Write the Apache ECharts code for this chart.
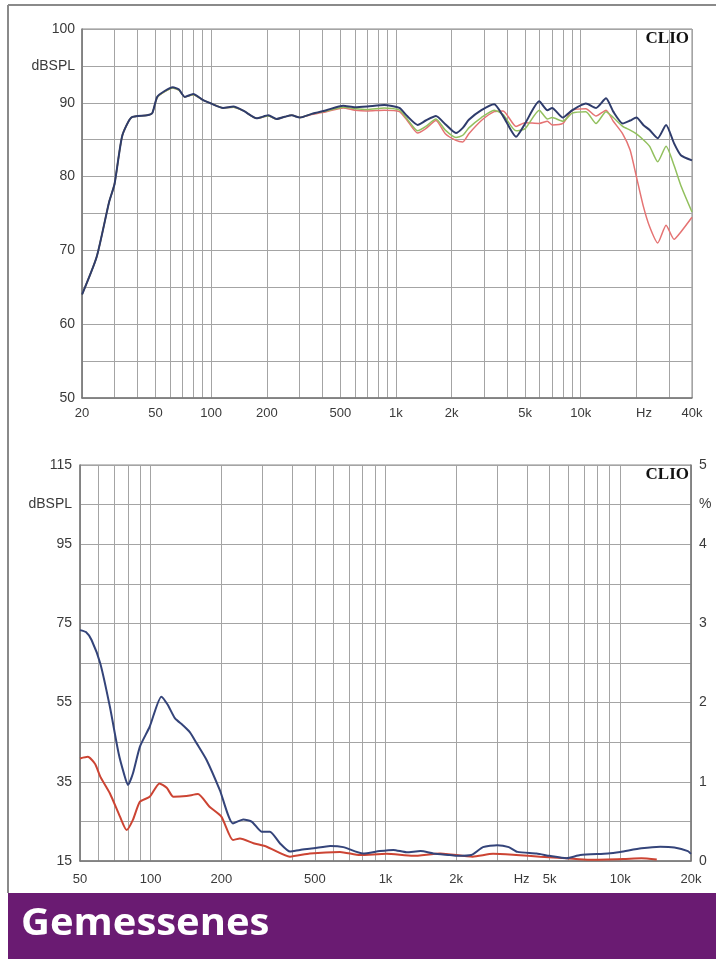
<!DOCTYPE html>
<html>
<head>
<meta charset="utf-8">
<title>Gemessenes</title>
<script src="https://cdn.jsdelivr.net/npm/echarts@6/dist/echarts.min.js"></script>
<style>
  html, body { margin: 0; padding: 0; background: #fff; }
  #chart { width: 716px; height: 959px; }
</style>
</head>
<body>
<div id="chart"></div>
<script>
// --- oberes Diagramm: Frequenzgang (dBSPL über Hz) ---
const topFreq = [20, 24, 28, 30, 33, 37, 45, 48, 51, 56, 62, 67, 72, 80, 90, 100, 116, 132, 150, 176,
  204, 226, 250, 273, 302, 350, 420, 518, 600, 700, 864, 1044, 1150, 1310, 1450, 1646, 1850, 2112, 2300, 2480,
  2900, 3400, 3800, 4466, 5000, 5960, 6600, 7000, 8000, 9000, 10660, 12100, 13700, 15000, 16860, 18500, 20000,
  21800, 23600, 26100, 28960, 32000, 34800, 40000]
const topBlue = [64.0, 69.1, 76.5, 79.0, 85.5, 88.0, 88.3, 88.6, 90.8, 91.6, 92.1, 91.8, 90.8, 91.2, 90.4, 89.9, 89.3, 89.5, 88.9, 87.9,
  88.3, 87.8, 88.1, 88.3, 88.0, 88.5, 89.0, 89.6, 89.4, 89.5, 89.7, 89.3, 88.2, 87.0, 87.6, 88.2, 87.1, 85.9, 86.6, 87.7,
  89.0, 89.8, 88.2, 85.4, 87.2, 90.2, 89.0, 89.3, 88.0, 89.0, 89.9, 89.3, 90.6, 88.8, 87.2, 87.6, 88.0,
  87.0, 86.3, 85.2, 87.0, 84.5, 82.9, 82.2]
const topGreen = [64.0, 69.1, 76.5, 79.0, 85.5, 88.0, 88.3, 88.6, 90.7, 91.5, 92.0, 91.7, 90.8, 91.1, 90.4, 89.9, 89.3, 89.4, 88.9, 87.9,
  88.2, 87.8, 88.1, 88.3, 88.0, 88.5, 88.9, 89.4, 89.2, 89.1, 89.3, 89.0, 87.8, 86.2, 86.8, 87.8, 86.3, 85.3, 85.6, 86.6,
  88.0, 89.0, 88.4, 86.2, 86.5, 89.0, 87.8, 88.0, 87.5, 88.6, 88.8, 87.2, 88.8, 88.0, 86.8, 86.3, 85.8,
  85.0, 84.1, 82.0, 84.1, 81.5, 78.8, 75.2]
const topRed = [64.0, 69.1, 76.5, 79.0, 85.5, 88.0, 88.3, 88.6, 90.7, 91.5, 92.0, 91.7, 90.8, 91.1, 90.4, 89.9, 89.3, 89.4, 88.9, 87.9,
  88.2, 87.8, 88.1, 88.3, 88.0, 88.4, 88.8, 89.3, 89.0, 88.9, 89.0, 88.8, 87.6, 85.9, 86.5, 87.6, 85.8, 84.9, 84.7, 85.8,
  87.6, 88.8, 88.9, 86.8, 87.3, 87.2, 87.5, 87.0, 87.2, 89.0, 89.2, 88.2, 89.0, 87.5, 85.8, 83.6, 80.0,
  76.0, 73.2, 71.0, 73.4, 71.5, 72.5, 74.5]

const topGridFreq = [20, 30, 40, 50, 60, 70, 80, 90, 100, 200, 300, 400, 500, 600, 700, 800, 900,
  1000, 2000, 3000, 4000, 5000, 6000, 7000, 8000, 9000, 10000, 20000, 30000, 40000]
const topLabelFreq = [20, 50, 100, 200, 500, 1000, 2000, 5000, 10000, 22000, 40000]
const topLabelText = ['20', '50', '100', '200', '500', '1k', '2k', '5k', '10k', 'Hz', '40k']
const topYTicks = [50, 55, 60, 65, 70, 75, 80, 85, 90, 95, 100]
const topYLabels = [50, 60, 70, 80, 90, 95, 100]

// --- unteres Diagramm: Klirrfaktor ---
const botBlueFreq = [50, 53, 56, 61, 67, 73, 77, 80, 84, 90, 99, 111, 118, 127, 137, 147, 157, 173, 197, 224,
  248, 270, 297, 322, 355, 392, 432, 495, 582, 661, 802, 945, 1080, 1230, 1410, 1600, 1880, 2025, 2320, 2600,
  2990, 3350, 3650, 4400, 5000, 5900, 6750, 8850, 10000, 12300, 14800, 17000, 19400, 20000]
const botBlueDb = [73.3, 72.8, 70.8, 64.9, 54.0, 42.2, 37.0, 34.2, 37.1, 43.9, 48.9, 56.5, 54.5, 51.0, 49.3, 47.5, 44.7, 40.5, 32.9, 24.5,
  25.5, 24.9, 22.4, 22.4, 19.5, 17.4, 17.8, 18.2, 18.8, 18.5, 16.9, 17.5, 17.8, 17.2, 17.5, 16.9, 16.5, 16.3, 16.5, 18.5,
  19.0, 18.5, 17.3, 16.9, 16.3, 15.7, 16.5, 16.9, 17.3, 18.2, 18.6, 18.4, 17.5, 16.8]
const botRedFreq = [50, 54, 58, 61, 67, 74, 79, 84, 90, 99, 109, 117, 125, 142, 159, 178, 200, 224, 240, 274,
  312, 392, 476, 640, 780, 1010, 1310, 1710, 2350, 2870, 3600, 4550, 5900, 7400, 10300, 12300, 14300]
const botRedDb = [40.9, 41.3, 39.5, 36.3, 32.1, 26.2, 22.8, 25.4, 30.0, 31.2, 34.6, 33.5, 31.2, 31.4, 31.9, 28.7, 26.2, 20.3, 20.7, 19.5,
  18.6, 16.1, 16.9, 17.3, 16.5, 16.8, 16.3, 16.9, 16.1, 16.8, 16.5, 16.1, 15.7, 15.3, 15.5, 15.7, 15.4]

const botGridFreq = [50, 60, 70, 80, 90, 100, 200, 300, 400, 500, 600, 700, 800, 900,
  1000, 2000, 3000, 4000, 5000, 6000, 7000, 8000, 9000, 10000, 20000]
const botLabelFreq = [50, 100, 200, 500, 1000, 2000, 3800, 5000, 10000, 20000]
const botLabelText = ['50', '100', '200', '500', '1k', '2k', 'Hz', '5k', '10k', '20k']
const botYTicks = [15, 25, 35, 45, 55, 65, 75, 85, 95, 105, 115]
const botYLabels = [15, 35, 55, 75, 95, 105, 115]
const botPctLabels = [0, 1, 2, 3, 4, 4.5, 5]

const lg = Math.log10
const gridColor = '#a4a4a4'
const textColor = '#3a3a3a'
const font = 'Liberation Sans, Arial, sans-serif'

function pairs(freqs, vals) {
  return freqs.map((f, i) => [lg(f), vals[i]])
}

function freqFormatter(freqs, texts) {
  return function (v) {
    for (let i = 0; i < freqs.length; i++) {
      if (Math.abs(lg(freqs[i]) - v) < 1e-6) return texts[i]
    }
    return ''
  }
}

function xAxis(gridIndex, fmin, fmax, gridFreq, labelFreq, labelText, margin) {
  return {
    type: 'value', gridIndex: gridIndex,
    min: lg(fmin), max: lg(fmax),
    axisLine: { lineStyle: { color: '#777', width: 1.5 } },
    axisTick: { show: false, customValues: gridFreq.map(lg) },
    splitLine: { show: true, lineStyle: { color: gridColor, width: 1 } },
    axisLabel: {
      customValues: labelFreq.map(lg),
      formatter: freqFormatter(labelFreq, labelText),
      color: textColor, fontSize: 13, fontFamily: font, margin: margin
    }
  }
}

const chart = echarts.init(document.getElementById('chart'))

chart.setOption({
  backgroundColor: '#fff',
  animation: false,
  grid: [
    { left: 82, top: 29, width: 610, height: 369, show: true, borderColor: '#888', borderWidth: 1 },
    { left: 80, top: 465, width: 611, height: 396, show: true, borderColor: '#888', borderWidth: 1 }
  ],
  xAxis: [
    xAxis(0, 20, 40000, topGridFreq, topLabelFreq, topLabelText, 9),
    xAxis(1, 50, 20000, botGridFreq, botLabelFreq, botLabelText, 12)
  ],
  yAxis: [
    {
      type: 'value', gridIndex: 0, min: 50, max: 100,
      axisLine: { show: true, lineStyle: { color: '#777', width: 1.5 } },
      axisTick: { show: false, customValues: topYTicks },
      splitLine: { show: true, lineStyle: { color: gridColor, width: 1 } },
      axisLabel: {
        customValues: topYLabels,
        formatter: v => (v === 95 ? 'dBSPL' : String(v)),
        color: textColor, fontSize: 14, fontFamily: font, margin: 7
      }
    },
    {
      type: 'value', gridIndex: 1, min: 15, max: 115,
      axisLine: { show: true, lineStyle: { color: '#777', width: 1.5 } },
      axisTick: { show: false, customValues: botYTicks },
      splitLine: { show: true, lineStyle: { color: gridColor, width: 1 } },
      axisLabel: {
        customValues: botYLabels,
        formatter: v => (v === 105 ? 'dBSPL' : String(v)),
        color: textColor, fontSize: 14, fontFamily: font, margin: 8
      }
    },
    {
      type: 'value', gridIndex: 1, position: 'right', min: 0, max: 5,
      axisLine: { show: true, lineStyle: { color: '#777', width: 1.5 } },
      axisTick: { show: false, customValues: botPctLabels },
      splitLine: { show: false },
      axisLabel: {
        customValues: botPctLabels,
        formatter: v => (v === 4.5 ? '%' : String(v)),
        color: textColor, fontSize: 14, fontFamily: font, margin: 8
      }
    }
  ],
  series: [
    {
      name: 'rot', type: 'line', xAxisIndex: 0, yAxisIndex: 0, showSymbol: false, smooth: 0.2,
      lineStyle: { color: '#e57373', width: 1.5 }, data: pairs(topFreq, topRed)
    },
    {
      name: 'grün', type: 'line', xAxisIndex: 0, yAxisIndex: 0, showSymbol: false, smooth: 0.2,
      lineStyle: { color: '#92c05e', width: 1.5 }, data: pairs(topFreq, topGreen)
    },
    {
      name: 'blau', type: 'line', xAxisIndex: 0, yAxisIndex: 0, showSymbol: false, smooth: 0.2,
      lineStyle: { color: '#2f3c6c', width: 2 }, data: pairs(topFreq, topBlue)
    },
    {
      name: 'k2', type: 'line', xAxisIndex: 1, yAxisIndex: 1, showSymbol: false, smooth: 0.2,
      lineStyle: { color: '#cc4433', width: 2 }, data: pairs(botRedFreq, botRedDb)
    },
    {
      name: 'k3', type: 'line', xAxisIndex: 1, yAxisIndex: 1, showSymbol: false, smooth: 0.2,
      lineStyle: { color: '#34447a', width: 2 }, data: pairs(botBlueFreq, botBlueDb)
    }
  ],
  graphic: [
    // Rahmen
    { type: 'line', shape: { x1: 8, y1: 5, x2: 716, y2: 5 }, style: { stroke: '#8a8a8a', lineWidth: 2 } },
    { type: 'line', shape: { x1: 8, y1: 5, x2: 8, y2: 893 }, style: { stroke: '#8a8a8a', lineWidth: 2 } },
    {
      type: 'text', right: 27, top: 30,
      style: { text: 'CLIO', font: 'bold 17px "Liberation Serif", "DejaVu Serif", serif', fill: '#111' }
    },
    {
      type: 'text', right: 27, top: 466,
      style: { text: 'CLIO', font: 'bold 17px "Liberation Serif", "DejaVu Serif", serif', fill: '#111' }
    },
    // Banner
    { type: 'rect', shape: { x: 8, y: 893, width: 708, height: 66 }, style: { fill: '#6a1b72' } },
    {
      type: 'text', x: 21, y: 906, scaleX: 1.08,
      style: { text: 'Gemessenes', font: 'bold 37px "Open Sans", "Noto Sans", sans-serif', fill: '#fff' }
    }
  ]
})
</script>
</body>
</html>
